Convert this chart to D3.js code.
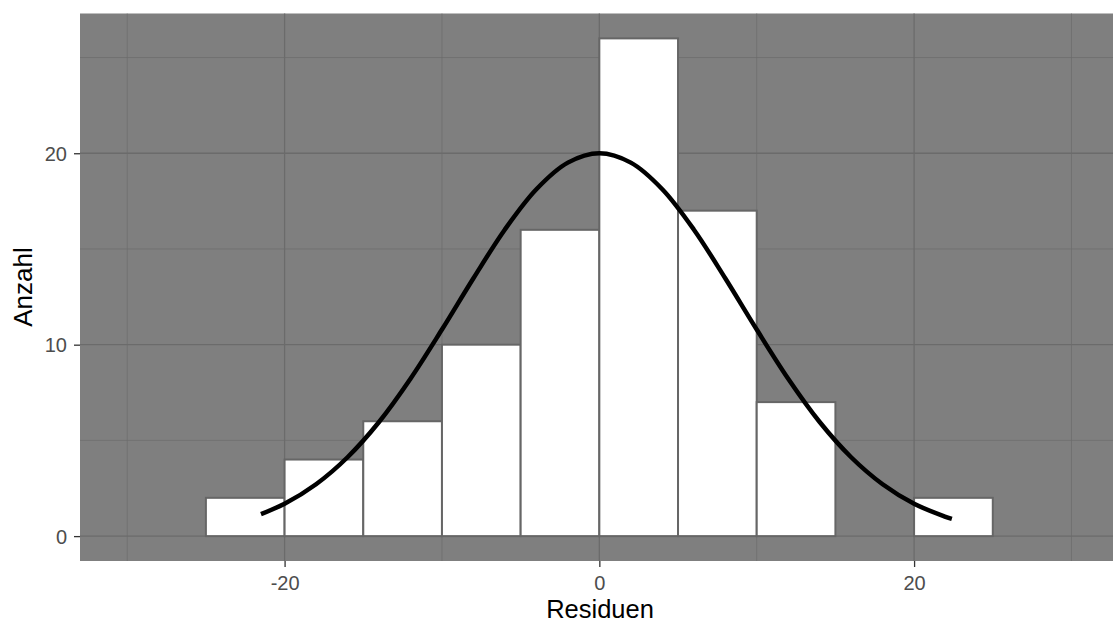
<!DOCTYPE html>
<html>
<head>
<meta charset="utf-8">
<script src="https://cdn.jsdelivr.net/npm/d3@7"></script>
<style>
    body { margin: 0; background: #fff; }
    svg { display: block; font-family: "Liberation Sans", Arial, sans-serif; }
</style>
</head>
<body>
<svg id="chart" width="1113" height="624"></svg>
<script>
// histogram bins (width 5) and counts
const binStarts = [-30, -25, -20, -15, -10, -5, 0, 5, 10, 15, 20, 25];
const counts = [0, 2, 4, 6, 10, 16, 26, 17, 7, 0, 2, 0];
const binWidth = 5;

// normal curve
const curveX = [-21.5, -20, -18, -16, -14, -12, -10, -8, -6, -4, -2, 0, 2, 4, 6, 8, 10, 12, 14, 16, 18, 20, 22, 22.4];
const curveY = [1.15, 1.69, 2.71, 4.12, 5.96, 8.22, 10.79, 13.47, 16.02, 18.12, 19.51, 20, 19.51, 18.12, 16.02, 13.47, 10.79, 8.22, 5.96, 4.12, 2.71, 1.69, 1.01, 0.90];

const xTicks = [-20, 0, 20];
const xMinor = [-30, -10, 10, 30];
const yTicks = [0, 10, 20];
const yMinor = [5, 15, 25];

const svg = d3.select("#chart");

const panel = { left: 80, top: 13.5, bottom: 561 };

const x = d3.scaleLinear()
    .domain([-33, 33])
    .range([panel.left, panel.left + 66 * 15.7375]);

const y = d3.scaleLinear()
    .domain([-1.3, 27.3])
    .range([panel.bottom, panel.top]);

// panel background
svg.append("rect")
    .attr("x", x(-33))
    .attr("y", y(27.3))
    .attr("width", x(33) - x(-33))
    .attr("height", y(-1.3) - y(27.3))
    .attr("fill", "#7f7f7f");

// grid lines
const grid = svg.append("g").attr("stroke", "#6b6b6b");
grid.selectAll(".xminor").data(xMinor).enter().append("line")
    .attr("x1", d => x(d)).attr("x2", d => x(d))
    .attr("y1", panel.top).attr("y2", panel.bottom)
    .attr("stroke-width", 0.7);
grid.selectAll(".yminor").data(yMinor).enter().append("line")
    .attr("y1", d => y(d)).attr("y2", d => y(d))
    .attr("x1", x(-33)).attr("x2", x(33))
    .attr("stroke-width", 0.7);
grid.selectAll(".xmajor").data(xTicks).enter().append("line")
    .attr("x1", d => x(d)).attr("x2", d => x(d))
    .attr("y1", panel.top).attr("y2", panel.bottom)
    .attr("stroke-width", 1.3);
grid.selectAll(".ymajor").data(yTicks).enter().append("line")
    .attr("y1", d => y(d)).attr("y2", d => y(d))
    .attr("x1", x(-33)).attr("x2", x(33))
    .attr("stroke-width", 1.3);

// bars
svg.append("g")
    .selectAll("rect")
    .data(binStarts)
    .enter().append("rect")
    .attr("x", d => x(d))
    .attr("y", (d, i) => y(counts[i]))
    .attr("width", x(binWidth) - x(0))
    .attr("height", (d, i) => y(0) - y(counts[i]))
    .attr("fill", "#ffffff")
    .attr("stroke", "#666666")
    .attr("stroke-width", 2);

// normal curve
const line = d3.line()
    .x((d, i) => x(curveX[i]))
    .y(d => y(d))
    .curve(d3.curveCatmullRom);

svg.append("path")
    .datum(curveY)
    .attr("d", line)
    .attr("fill", "none")
    .attr("stroke", "#000")
    .attr("stroke-width", 4.5)
    .attr("stroke-linecap", "butt");

// x axis
const xAxis = svg.append("g")
    .attr("transform", `translate(0,${panel.bottom})`)
    .call(d3.axisBottom(x).tickValues(xTicks).tickSize(6).tickPadding(4).tickFormat(d => String(d)));
xAxis.select(".domain").remove();
xAxis.selectAll("line").attr("stroke", "#333333").attr("stroke-width", 1.3);
xAxis.selectAll("text")
    .attr("fill", "#4d4d4d")
    .style("font-size", "20px")
    .attr("dy", null)
    .attr("y", 29);

// y axis
const yAxis = svg.append("g")
    .attr("transform", `translate(${panel.left},0)`)
    .call(d3.axisLeft(y).tickValues(yTicks).tickSize(6).tickPadding(5).tickFormat(d => String(d)));
yAxis.select(".domain").remove();
yAxis.selectAll("line").attr("stroke", "#333333").attr("stroke-width", 1.3);
yAxis.selectAll("text")
    .attr("fill", "#4d4d4d")
    .style("font-size", "20px")
    .attr("dy", "0.35em")
    .attr("x", -13);

// axis titles
svg.append("text")
    .attr("x", 600)
    .attr("y", 618)
    .attr("text-anchor", "middle")
    .style("font-size", "25.5px")
    .attr("fill", "#000")
    .text("Residuen");

svg.append("text")
    .attr("transform", "translate(32,287) rotate(-90)")
    .attr("text-anchor", "middle")
    .style("font-size", "26px")
    .attr("fill", "#000")
    .text("Anzahl");
</script>
</body>
</html>
